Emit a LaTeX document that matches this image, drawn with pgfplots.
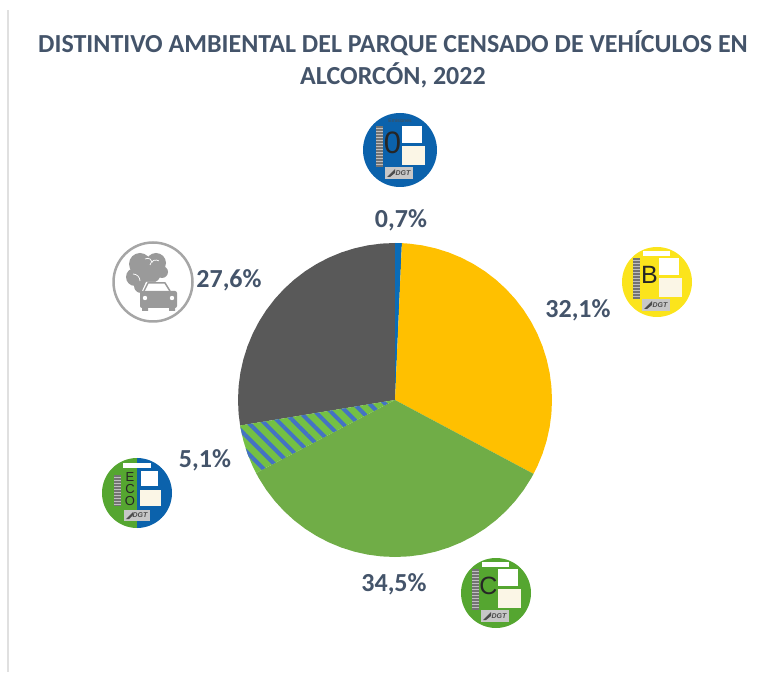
\documentclass[border=0pt]{standalone}
\usepackage{fontspec}
\setmainfont{Carlito}
\newfontfamily\stickerfont{Liberation Sans}
\usepackage{pgfplots}
\pgfplotsset{compat=1.18}
\usepgfplotslibrary{polar}
\usetikzlibrary{patterns.meta}
\definecolor{titlec}{HTML}{44546A}
\definecolor{cyellow}{HTML}{FFC000}
\definecolor{cgreen}{HTML}{70AD47}
\definecolor{cgray}{HTML}{595959}
\definecolor{cblue}{HTML}{0A6CB8}
\definecolor{hatchg}{HTML}{74C044}
\definecolor{hatchb}{HTML}{4472C4}
\definecolor{badgeb}{HTML}{0B62AC}
\definecolor{badgeg}{HTML}{55A630}
\definecolor{badgey}{HTML}{FBE41C}
\definecolor{cream}{HTML}{FBF6E6}
\definecolor{smoke}{HTML}{9A9A9A}

% sticker: x, y (pixels from top left), radius, colour, letter, top bar colour, letter size
\newcommand\sticker[7]{%
  \begin{scope}[shift={(#1,672-#2)}]
    \fill[#4] (0,0) circle (#3);
    \fill[#6] (-14,26) rectangle (13,31);
    \fill[white] (2,7) rectangle (22,24);
    \fill[cream] (2,-15) rectangle (25,4);
    \fill[black!55] (-24,-17) rectangle (-17,24);
    \foreach \yy in {-15,-12,...,22} {\fill[white!75!black] (-24,\yy) rectangle (-17,\yy+1);}
    \fill[black!22] (-15,-29) rectangle (13,-17);
    \node[font=\bfseries\itshape\stickerfont\fontsize{7}{7}\selectfont,text=black!70] at (3,-23) {DGT};
    \fill[black!70] (-13,-27) -- (-5,-19) -- (-5,-23) -- (-10,-27) -- cycle;
    \node[text=black!85,font=\stickerfont\fontsize{#7}{#7}\selectfont] at (-7.5,7) {#5};
  \end{scope}}

\begin{document}
\begin{tikzpicture}[x=1pt,y=1pt]
\useasboundingbox (0,0) rectangle (781,672);
\begin{axis}[
    at={(395pt,272pt)}, anchor=origin,
    x=1pt, y=1pt,
    hide axis,
    clip=false,
    xmin=-160, xmax=160, ymin=-160, ymax=160,
  ]
  % shares in %: 0.7, 32.1, 34.5, 5.1, 27.6 -> slices as (angle, radius)
  \addplot[data cs=polar, fill=cgray, draw=none] coordinates {
    (0,0) (-170.64,157) (-170,157) (-175,157) (-180,157) (-185,157) (-190,157) (-195,157)
    (-200,157) (-205,157) (-210,157) (-215,157) (-220,157) (-225,157) (-230,157) (-235,157)
    (-240,157) (-245,157) (-250,157) (-255,157) (-260,157) (-265,157) (-270,157) (0,0)} -- cycle;
  \addplot[data cs=polar, fill=cblue, draw=none] coordinates {
    (0,0) (90,157) (87.48,157) (0,0)} -- cycle;
  \addplot[data cs=polar, fill=cyellow, draw=none] coordinates {
    (0,0) (87.48,157) (85,157) (80,157) (75,157) (70,157) (65,157) (60,157) (55,157)
    (50,157) (45,157) (40,157) (35,157) (30,157) (25,157) (20,157) (15,157) (10,157)
    (5,157) (0,157) (-5,157) (-10,157) (-15,157) (-20,157) (-25,157) (-28.08,157) (0,0)} -- cycle;
  \addplot[data cs=polar, fill=cgreen, draw=none] coordinates {
    (0,0) (-28.08,157) (-30,157) (-35,157) (-40,157) (-45,157) (-50,157) (-55,157) (-60,157)
    (-65,157) (-70,157) (-75,157) (-80,157) (-85,157) (-90,157) (-95,157) (-100,157)
    (-105,157) (-110,157) (-115,157) (-120,157) (-125,157) (-130,157) (-135,157) (-140,157)
    (-145,157) (-150,157) (-152.28,157) (0,0)} -- cycle;
  \addplot[data cs=polar, fill=hatchg, draw=none] coordinates {
    (0,0) (-152.28,157) (-155,157) (-160,157) (-165,157) (-170,157) (-170.64,157) (0,0)} -- cycle;
  \addplot[data cs=polar, draw=none, pattern={Lines[angle=-45,distance=11pt,line width=4pt]}, pattern color=hatchb] coordinates {
    (0,0) (-152.28,157) (-155,157) (-160,157) (-165,157) (-170,157) (-170.64,157) (0,0)} -- cycle;
\end{axis}

% frame line at the left
\draw[black!12,line width=1.5pt] (8,0) -- (8,662);

% title
\node[text=titlec,align=center,font=\bfseries\fontsize{26}{32}\selectfont] at (393,613)
  {DISTINTIVO AMBIENTAL DEL PARQUE CENSADO DE VEHÍCULOS EN\\ALCORCÓN, 2022};

% data labels
\begin{scope}[every node/.style={text=titlec,font=\bfseries\fontsize{26}{26}\selectfont}]
  \node at (401,672-220) {0,7\%};
  \node at (578,672-310) {32,1\%};
  \node at (394,672-584) {34,5\%};
  \node at (205,672-460) {5,1\%};
  \node at (229,672-280) {27,6\%};
\end{scope}

% stickers
\sticker{400}{150}{37}{badgeb}{0}{badgeb}{31}
\node[font=\stickerfont\fontsize{5}{5}\selectfont,text=black!70] at (400,672-150+29) {Emisiones};
\sticker{657}{282}{35}{badgey}{B}{white}{25}
\sticker{496}{593}{35}{badgeg}{C}{white}{25}

% ECO sticker
\begin{scope}[shift={(137,672-493)}]
  \fill[badgeg] (0,-35) arc (-90:-270:35) -- cycle;
  \fill[badgeb] (0,35) arc (90:-90:35) -- cycle;
  \fill[white] (-14,25) rectangle (14,30);
  \fill[white] (4,7) rectangle (21,22);
  \fill[cream] (3,-13) rectangle (24,3);
  \fill[black!55] (-23,-13) rectangle (-16,18);
  \foreach \yy in {-12,-9,...,16} {\fill[white!75!black] (-23,\yy) rectangle (-16,\yy+1);}
  \fill[black!22] (-13,-28) rectangle (13,-17);
  \node[font=\bfseries\itshape\stickerfont\fontsize{7}{7}\selectfont,text=black!70] at (3,-22.5) {DGT};
  \fill[black!70] (-11,-26) -- (-4,-19) -- (-4,-22) -- (-8,-26) -- cycle;
  \begin{scope}[every node/.style={inner sep=0pt,text=black!85,font=\stickerfont\fontsize{13}{13}\selectfont}]
    \node at (-7,16) {E};
    \node at (-7,4) {C};
    \node at (-7,-8) {O};
  \end{scope}
\end{scope}

% smoke and car icon
\begin{scope}[shift={(153,672-282)}]
  \draw[black!35,line width=2.5pt] (0,0) circle (39.5);
  \fill[smoke] (-13,18) circle (11) (3,19) circle (10) (-18,5) circle (9)
    (-2,9) circle (10) (9,10) circle (6) (-12,-4) circle (7);
  \draw[white,line width=0.7pt] (-8,23) arc (120:10:5) (-20,8) arc (90:0:7) (-3,17) arc (170:60:6);
  \fill[white] (-11,-9) -- (-7,0) -- (13,0) -- (19,-9) -- cycle;
  \draw[smoke,line width=1.5pt] (-9,-9) -- (-5,-1) -- (12,-1) -- (17,-9);
  \fill[smoke,rounded corners=2pt] (-13,-26) rectangle (24,-9);
  \fill[smoke] (-11,-29) rectangle (-5,-24) (16,-29) rectangle (22,-24);
  \fill[white] (-8,-16) circle (2.2) (19,-16) circle (2.2);
\end{scope}
\end{tikzpicture}
\end{document}
